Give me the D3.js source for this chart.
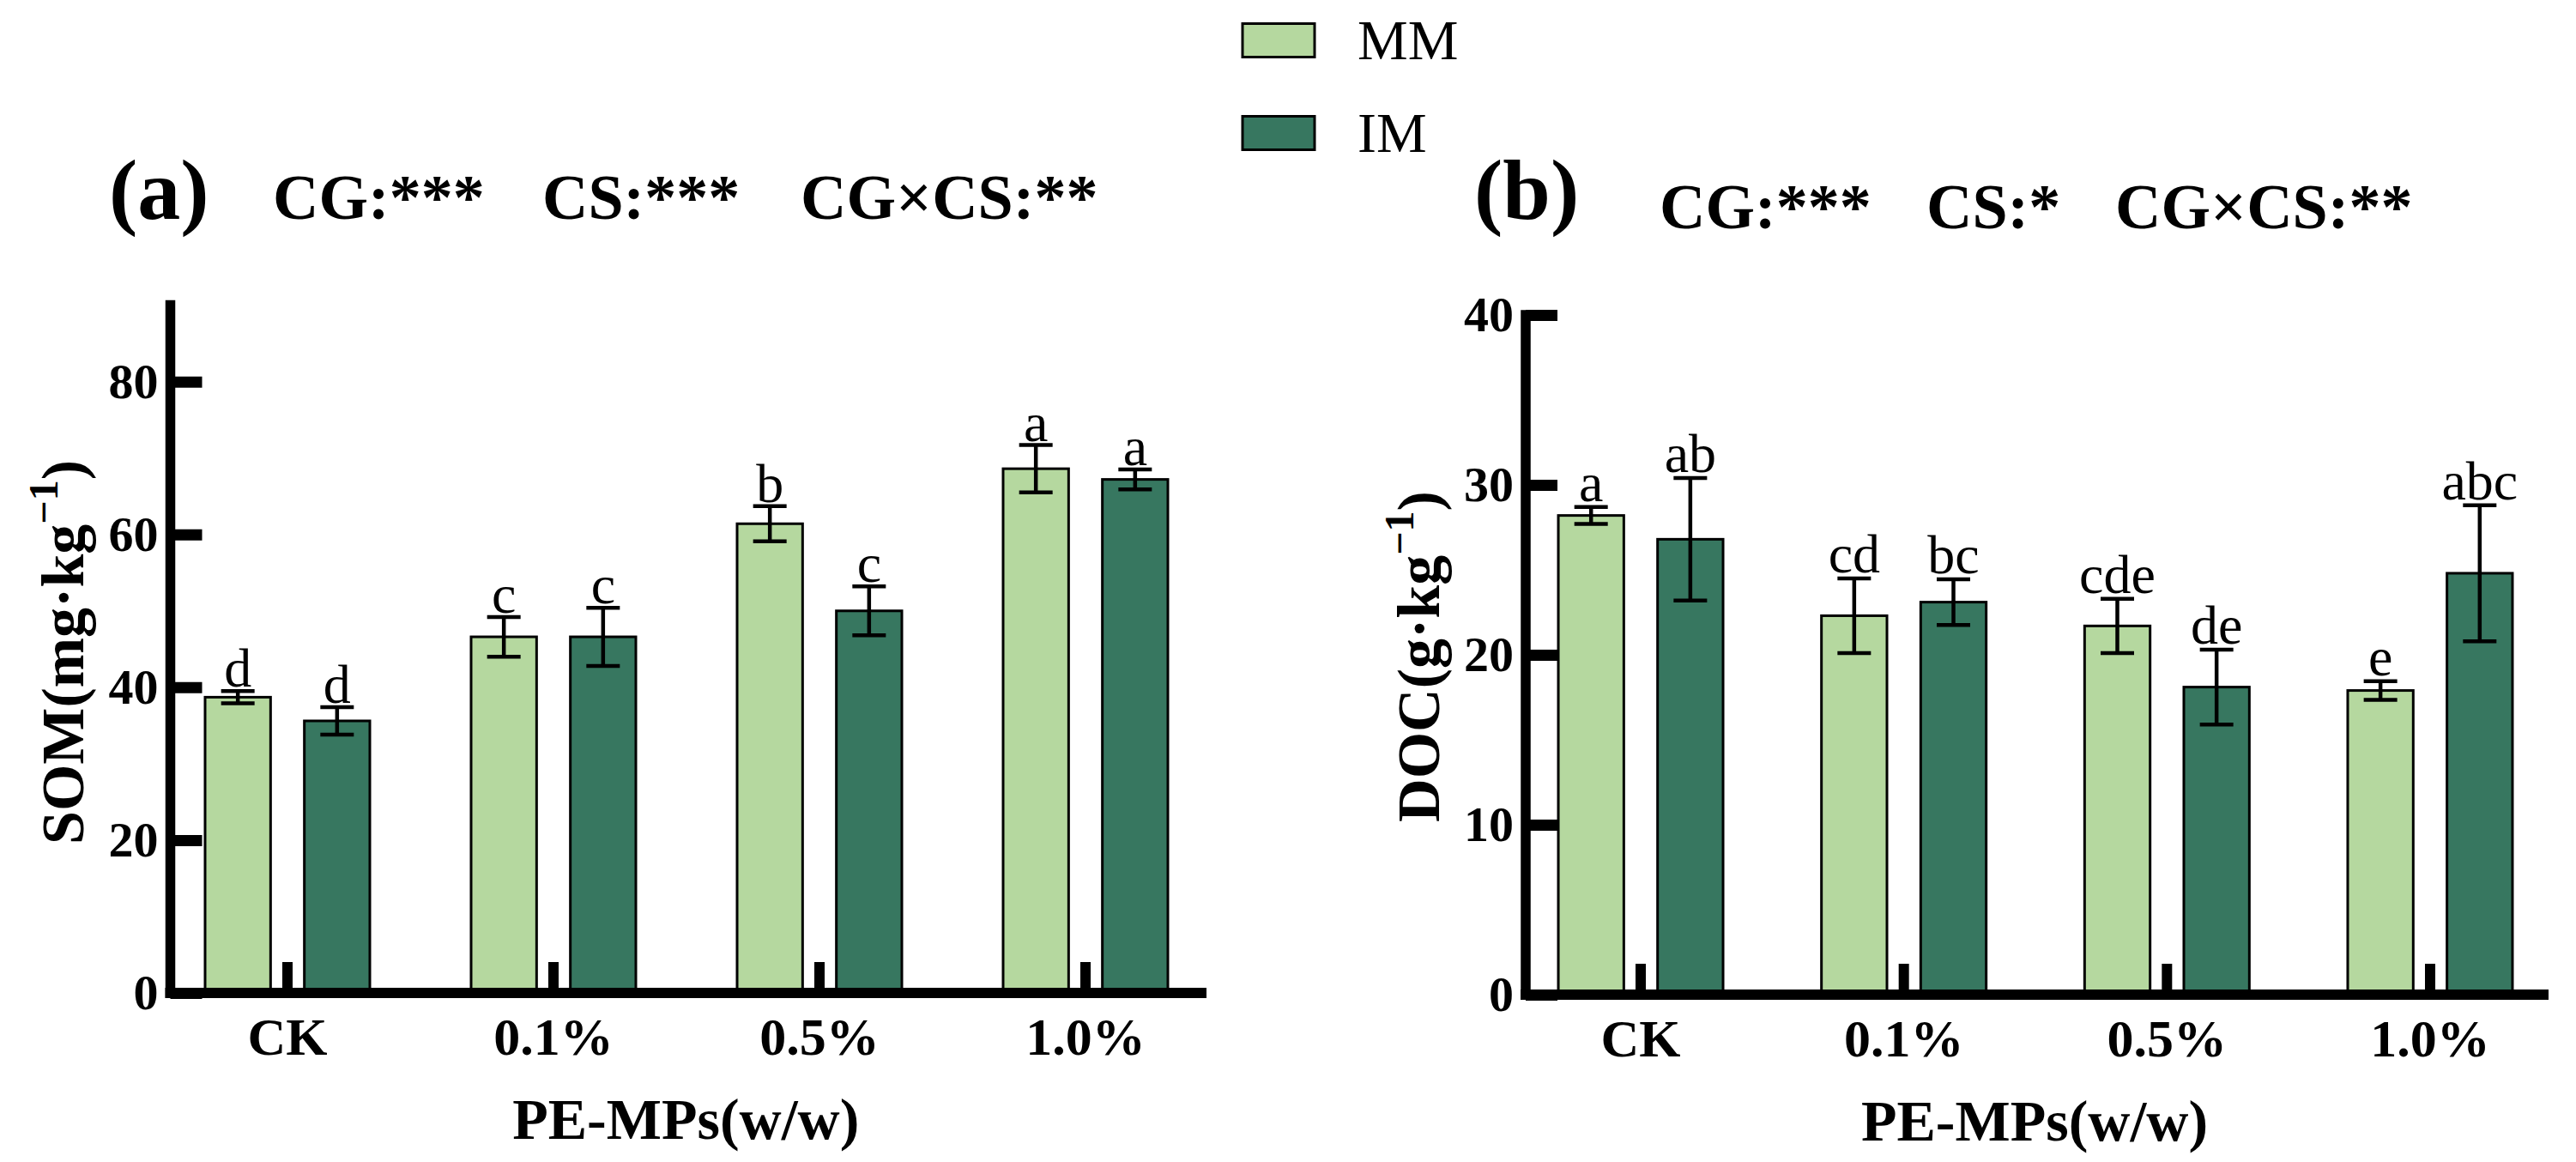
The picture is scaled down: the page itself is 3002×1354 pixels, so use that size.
<!DOCTYPE html>
<html>
<head>
<meta charset="utf-8">
<script src="https://cdn.jsdelivr.net/npm/d3@7"></script>
<style>
  body { margin: 0; background: #fff; }
  text { font-family: "Liberation Serif", "Times New Roman", serif; fill: #000; }
</style>
</head>
<body>
<div id="chart"></div>
<script>
/*SVG Size*/
var width = 3002;
var height = 1354;

/*Data*/
var categories = ["CK", "0.1%", "0.5%", "1.0%"];
var series = ["MM", "IM"];
var colors = ["#b5d89f", "#377760"];

var somMM = [38.7, 46.6, 61.4, 68.6];
var somMMerr = [0.8, 2.6, 2.3, 3.1];
var somIM = [35.6, 46.6, 50.0, 67.2];
var somIMerr = [1.8, 3.8, 3.2, 1.3];
var somMMsig = ["d", "c", "b", "a"];
var somIMsig = ["d", "c", "c", "a"];

var docMM = [28.2, 22.3, 21.7, 17.9];
var docMMerr = [0.5, 2.2, 1.6, 0.55];
var docIM = [26.8, 23.1, 18.1, 24.8];
var docIMerr = [3.6, 1.35, 2.2, 4.0];
var docMMsig = ["a", "cd", "cde", "e"];
var docIMsig = ["ab", "bc", "de", "abc"];

var somTicks = [0, 20, 40, 60, 80];
var docTicks = [0, 10, 20, 30, 40];

var svg = d3.select("#chart").append("svg")
            .attr("width", width)
            .attr("height", height);

svg.append("rect").attr("width", width).attr("height", height).attr("fill", "#fff");

function drawPanel(p) {
  var g = svg.append("g");

  var x0 = d3.scaleBand().domain(categories).range(p.xRange);
  var x1 = d3.scaleBand().domain(series).range([-96, 96]).paddingInner(0.34);
  var y = d3.scaleLinear().domain(p.yDomain).range([p.y0, p.yTop]);

  var rows = categories.map(function(c, i) {
    return series.map(function(s, j) {
      return {
        cat: c, ser: s, idx: j,
        v: p.values[j][i], e: p.errors[j][i], sig: p.sig[j][i]
      };
    });
  });

  var groups = g.selectAll(".grp").data(rows).enter().append("g")
                .attr("transform", function(d, i) { return "translate(" + (x0(categories[i]) + x0.bandwidth() / 2) + ",0)"; });

  var items = groups.selectAll(".item").data(function(d) { return d; }).enter().append("g");

  // bars
  items.append("rect")
       .attr("x", function(d) { return x1(d.ser); })
       .attr("width", x1.bandwidth())
       .attr("y", function(d) { return y(d.v); })
       .attr("height", function(d) { return y(0) - y(d.v); })
       .attr("fill", function(d) { return colors[d.idx]; })
       .attr("stroke", "#000")
       .attr("stroke-width", 3);

  // error bars
  var cx = function(d) { return x1(d.ser) + x1.bandwidth() / 2; };
  items.append("line")
       .attr("x1", cx).attr("x2", cx)
       .attr("y1", function(d) { return y(d.v + d.e); })
       .attr("y2", function(d) { return y(d.v - d.e); })
       .attr("stroke", "#000").attr("stroke-width", 4.5);
  [1, -1].forEach(function(sgn) {
    items.append("line")
         .attr("x1", function(d) { return cx(d) - 19.5; })
         .attr("x2", function(d) { return cx(d) + 19.5; })
         .attr("y1", function(d) { return y(d.v + sgn * d.e); })
         .attr("y2", function(d) { return y(d.v + sgn * d.e); })
         .attr("stroke", "#000").attr("stroke-width", 4.5);
  });

  // significance letters
  items.append("text")
       .attr("x", cx)
       .attr("y", function(d) { return y(d.v + d.e) - p.sigGap; })
       .attr("text-anchor", "middle")
       .style("font-size", "64px")
       .text(function(d) { return d.sig; });

  // y axis
  var yAxis = g.append("g")
               .attr("transform", "translate(" + p.axisX + ",0)")
               .call(d3.axisLeft(y).tickValues(p.ticks).tickSize(-37).tickPadding(14).tickSizeOuter(0));
  yAxis.select(".domain").remove();
  yAxis.selectAll(".tick line").attr("stroke", "#000").attr("stroke-width", 13);
  yAxis.selectAll(".tick text")
       .style("font-family", "Liberation Serif")
       .style("font-size", "58px").style("font-weight", "bold").attr("fill", "#000");

  // x axis
  var xAxis = g.append("g")
               .attr("transform", "translate(0," + p.y0 + ")")
               .call(d3.axisBottom(x0).tickSize(-36).tickPadding(28).tickSizeOuter(0));
  xAxis.select(".domain").remove();
  xAxis.selectAll(".tick line").attr("stroke", "#000").attr("stroke-width", 12);
  xAxis.selectAll(".tick text")
       .style("font-family", "Liberation Serif")
       .style("font-size", "62px").style("font-weight", "bold").attr("fill", "#000");

  // axis lines
  g.append("line")
   .attr("x1", p.axisX).attr("x2", p.axisX)
   .attr("y1", p.y0).attr("y2", p.yTop)
   .attr("stroke", "#000").attr("stroke-width", 11.5).attr("stroke-linecap", "square");
  g.append("line")
   .attr("x1", p.axisX).attr("x2", p.xEnd)
   .attr("y1", p.y0).attr("y2", p.y0)
   .attr("stroke", "#000").attr("stroke-width", 12).attr("stroke-linecap", "square");

  // axis titles
  g.append("text")
   .attr("x", (p.axisX + p.xEnd) / 2)
   .attr("y", p.y0 + 170)
   .attr("text-anchor", "middle")
   .style("font-size", "68px").style("font-weight", "bold")
   .text("PE-MPs(w/w)");

  var yt = g.append("text")
            .attr("transform", "translate(" + p.yTitleX + "," + p.yTitleY + ") rotate(-90)")
            .attr("text-anchor", "middle")
            .style("font-size", "70px").style("font-weight", "bold");
  yt.append("tspan").text(p.yTitle);
  yt.append("tspan").attr("dy", -30).style("font-size", "48px").text("\u22121");
  yt.append("tspan").attr("dy", 30).text(")");

  // panel label and stats
  g.append("text").attr("x", p.labelX).attr("y", 255)
   .style("font-size", "100px").style("font-weight", "bold").text(p.label);
  p.stats.forEach(function(s, i) {
    g.append("text").attr("x", p.statX[i]).attr("y", p.statY)
     .style("font-size", "74px").style("font-weight", "bold").text(s);
  });
}

drawPanel({
  xRange: [180, 1420], axisX: 198.5, xEnd: 1400,
  y0: 1157, yTop: 355.6, yDomain: [0, 90], ticks: somTicks,
  values: [somMM, somIM], errors: [somMMerr, somIMerr], sig: [somMMsig, somIMsig],
  sigGap: 5,
  yTitle: "SOM(mg\u00b7kg", yTitleX: 97, yTitleY: 760,
  label: "(a)", labelX: 127,
  stats: ["CG:***", "CS:***", "CG\u00d7CS:**"], statX: [318, 632, 933], statY: 255
});

drawPanel({
  xRange: [1758.7, 2985.3], axisX: 1778, xEnd: 2964,
  y0: 1159, yTop: 367, yDomain: [0, 40], ticks: docTicks,
  values: [docMM, docIM], errors: [docMMerr, docIMerr], sig: [docMMsig, docIMsig],
  sigGap: 7,
  yTitle: "DOC(g\u00b7kg", yTitleX: 1677, yTitleY: 765,
  label: "(b)", labelX: 1718,
  stats: ["CG:***", "CS:*", "CG\u00d7CS:**"], statX: [1934, 2245, 2465], statY: 266
});

/*Legend*/
var legend = svg.append("g");
series.forEach(function(s, i) {
  var ly = [26, 134][i];
  legend.append("rect")
        .attr("x", 1448).attr("y", ly + 1.5)
        .attr("width", 84).attr("height", 39)
        .attr("fill", colors[i]).attr("stroke", "#000").attr("stroke-width", 3);
  legend.append("text")
        .attr("x", 1582).attr("y", ly + 43)
        .style("font-size", "66px")
        .text(s);
});
</script>
</body>
</html>
